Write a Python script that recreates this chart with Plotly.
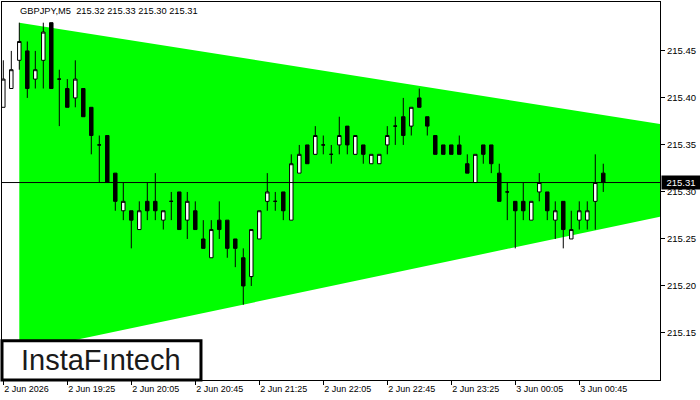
import plotly.graph_objects as go

# ---- data (GBPJPY M5) ----
bar_index = list(range(76))
open_ = [215.39, 215.41, 215.44, 215.45, 215.42, 215.44, 215.48, 215.42, 215.41, 215.40,
         215.41, 215.39, 215.35, 215.36, 215.32, 215.28, 215.28, 215.26, 215.29, 215.29,
         215.27, 215.29, 215.30, 215.27, 215.28, 215.25, 215.23, 215.27, 215.27, 215.25,
         215.23, 215.21, 215.25, 215.29, 215.29, 215.30, 215.27, 215.32, 215.35, 215.34,
         215.35, 215.34, 215.35, 215.37, 215.34, 215.35, 215.33, 215.33, 215.35, 215.37,
         215.38, 215.37, 215.40, 215.38, 215.36, 215.35, 215.35, 215.35, 215.33, 215.31,
         215.35, 215.35, 215.32, 215.30, 215.29, 215.29, 215.27, 215.30, 215.30, 215.27,
         215.29, 215.25, 215.27, 215.27, 215.29, 215.32]
high = [215.44, 215.45, 215.48, 215.46, 215.45, 215.48, 215.48, 215.43, 215.42, 215.44,
        215.41, 215.39, 215.36, 215.36, 215.32, 215.31, 215.28, 215.29, 215.31, 215.32,
        215.28, 215.30, 215.30, 215.30, 215.29, 215.27, 215.27, 215.29, 215.27, 215.25,
        215.24, 215.26, 215.28, 215.32, 215.30, 215.30, 215.34, 215.35, 215.35, 215.37,
        215.36, 215.35, 215.38, 215.37, 215.36, 215.35, 215.34, 215.34, 215.37, 215.38,
        215.40, 215.39, 215.41, 215.38, 215.36, 215.35, 215.35, 215.36, 215.34, 215.34,
        215.35, 215.35, 215.33, 215.31, 215.29, 215.31, 215.29, 215.32, 215.30, 215.29,
        215.29, 215.28, 215.29, 215.29, 215.34, 215.33]
low = [215.39, 215.41, 215.43, 215.40, 215.41, 215.41, 215.41, 215.37, 215.39, 215.39,
       215.38, 215.34, 215.31, 215.31, 215.28, 215.27, 215.24, 215.26, 215.27, 215.27,
       215.26, 215.27, 215.26, 215.25, 215.26, 215.24, 215.23, 215.25, 215.23, 215.22,
       215.18, 215.20, 215.25, 215.28, 215.28, 215.27, 215.27, 215.32, 215.33, 215.34,
       215.34, 215.33, 215.34, 215.34, 215.34, 215.33, 215.33, 215.33, 215.34, 215.35,
       215.35, 215.36, 215.39, 215.36, 215.34, 215.34, 215.34, 215.34, 215.32, 215.31,
       215.33, 215.32, 215.29, 215.27, 215.24, 215.27, 215.27, 215.29, 215.27, 215.25,
       215.24, 215.25, 215.26, 215.26, 215.26, 215.30]
close = [215.42, 215.43, 215.46, 215.41, 215.43, 215.47, 215.41, 215.42, 215.39, 215.42,
         215.38, 215.36, 215.35, 215.31, 215.29, 215.29, 215.27, 215.28, 215.28, 215.28,
         215.28, 215.29, 215.26, 215.29, 215.26, 215.24, 215.26, 215.26, 215.24, 215.24,
         215.20, 215.26, 215.28, 215.30, 215.29, 215.28, 215.33, 215.34, 215.33, 215.36,
         215.35, 215.34, 215.36, 215.35, 215.36, 215.34, 215.34, 215.34, 215.36, 215.37,
         215.36, 215.39, 215.39, 215.37, 215.34, 215.34, 215.34, 215.34, 215.32, 215.34,
         215.34, 215.33, 215.29, 215.30, 215.28, 215.28, 215.29, 215.31, 215.28, 215.28,
         215.26, 215.26, 215.28, 215.28, 215.31, 215.31]

# symmetric triangle pattern (bar index, price)
triangle_x = [2, 113.5, 2]
triangle_y = [215.48, 215.33, 215.13]

time_tick_index = [0, 8, 16, 24, 32, 40, 48, 56, 64, 72]
time_tick_labels = ["2 Jun 2026", "2 Jun 19:25", "2 Jun 20:05", "2 Jun 20:45", "2 Jun 21:25",
                    "2 Jun 22:05", "2 Jun 22:45", "2 Jun 23:25", "3 Jun 00:05", "3 Jun 00:45"]
price_ticks = [215.15, 215.20, 215.25, 215.30, 215.35, 215.40, 215.45]

symbol = "GBPJPY,M5"
FONT = "Liberation Sans"

fig = go.Figure()
fig.add_trace(go.Candlestick(
    x=bar_index, open=open_, high=high, low=low, close=close,
    increasing=dict(fillcolor="white", line=dict(color="black", width=1)),
    decreasing=dict(fillcolor="black", line=dict(color="black", width=1)),
    whiskerwidth=0, hoverinfo="skip"))

# triangle as a data-coordinate path drawn beneath the candles
tri_path = "M " + " L ".join(f"{x},{y}" for x, y in zip(triangle_x, triangle_y)) + " Z"
fig.add_shape(type="path", path=tri_path, fillcolor="#00FF00",
              line=dict(width=0), layer="below")

last = close[-1]
fig.add_shape(type="line", xref="paper", x0=0, x1=1, y0=last, y1=last,
              line=dict(color="black", width=1), layer="above")

# logo box
fig.add_shape(type="rect", xref="paper", yref="paper", x0=0, x1=0.3024, y0=0, y1=0.104,
              line=dict(color="black", width=3), fillcolor="white", layer="above")
fig.add_annotation(xref="paper", yref="paper", x=0.151, y=0.052, text="InstaFıntech",
                   showarrow=False, font=dict(family=FONT, size=29, color="#1a1a1a"),
                   xanchor="center", yanchor="middle")

header = f"{symbol}  {open_[-1]:.2f} {high[-1]:.2f} {low[-1]:.2f} {close[-1]:.2f}"
fig.add_annotation(xref="paper", yref="paper", x=0.024, y=0.996, text=header,
                   showarrow=False, xanchor="left", yanchor="top",
                   font=dict(family=FONT, size=9.3, color="black"))

fig.add_annotation(xref="paper", x=1, y=last, text=f"{last:.2f}", showarrow=False,
                   xanchor="left", yanchor="middle", xshift=1, width=36, align="center",
                   bgcolor="black", font=dict(family=FONT, size=9.5, color="white"),
                   borderpad=1)

fig.update_layout(
    width=700, height=400,
    margin=dict(l=2, r=40, t=2, b=20),
    plot_bgcolor="white", paper_bgcolor="white",
    showlegend=False, boxgap=0.38,
    xaxis=dict(range=[-0.1625, 82.09], rangeslider=dict(visible=False),
               tickvals=time_tick_index, ticktext=time_tick_labels,
               ticks="outside", ticklen=4, tickcolor="black",
               ticklabelposition="outside right",
               showgrid=False, zeroline=False, showline=True, linecolor="black",
               linewidth=1, mirror=True,
               tickfont=dict(family=FONT, size=9, color="black")),
    yaxis=dict(range=[215.1, 215.502], side="right",
               tickvals=price_ticks, ticktext=[f"{p:.2f}" for p in price_ticks],
               ticks="outside", ticklen=4, tickcolor="black",
               showgrid=False, zeroline=False, showline=True, linecolor="black",
               linewidth=1, mirror=True,
               tickfont=dict(family=FONT, size=9.5, color="black")),
)

fig.write_html("out.html", config={"displayModeBar": False},
               post_script="document.body.style.margin='0px';")
